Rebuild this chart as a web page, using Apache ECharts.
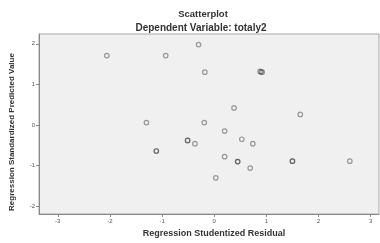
<!DOCTYPE html>
<html>
<head>
<meta charset="utf-8">
<script src="https://cdn.jsdelivr.net/npm/echarts@6/dist/echarts.min.js"></script>
<style>
  html, body { margin: 0; padding: 0; background: #fff; }
  #chart { width: 380px; height: 243px; }
</style>
</head>
<body>
<div id="chart"></div>
<script>
// studentized residual (x) vs standardized predicted value (y)
const residuals = [
  -2.06, -0.93, -0.30, -0.18, 0.88, 0.90, 0.92,
  0.38, 1.65, -1.30, -0.19, 0.20,
  -0.51, -0.51, -0.37, 0.53, 0.74,
  -1.11, -1.11, 0.20, 0.45, 0.45, 1.50, 1.50, 2.60,
  0.69, 0.03
]
const predicted = [
  1.71, 1.71, 1.98, 1.30, 1.32, 1.31, 1.30,
  0.42, 0.26, 0.06, 0.06, -0.15,
  -0.38, -0.38, -0.46, -0.35, -0.46,
  -0.64, -0.64, -0.78, -0.90, -0.90, -0.89, -0.89, -0.89,
  -1.06, -1.30
]
const xTicks = [-3, -2, -1, 0, 1, 2, 3]
const yTicks = [-2, -1, 0, 1, 2]

const points = residuals.map((x, i) => [x, predicted[i]])

const chart = echarts.init(document.getElementById('chart'), null, { renderer: 'canvas' })

const font = 'Liberation Sans, Arial, sans-serif'

chart.setOption({
  animation: false,
  backgroundColor: '#ffffff',
  title: [
    {
      text: 'Scatterplot',
      left: 198, top: 4, textAlign: 'center',
      textStyle: { fontFamily: font, fontSize: 9.5, fontWeight: 'bold', color: '#333' }
    },
    {
      text: 'Dependent Variable: totaly2',
      left: 196, top: 18, textAlign: 'center',
      textStyle: { fontFamily: font, fontSize: 10, fontWeight: 'bold', color: '#333' }
    }
  ],
  grid: {
    left: 38, right: 1, top: 34, bottom: 26,
    show: true,
    backgroundColor: '#f0f0f0',
    borderColor: '#a8a8a8',
    borderWidth: 1
  },
  xAxis: {
    type: 'value',
    min: -3.36,
    max: 3.16,
    name: 'Regression Studentized Residual',
    nameLocation: 'middle',
    nameGap: 15,
    nameTextStyle: { fontFamily: font, fontSize: 9, fontWeight: 'bold', color: '#333', padding: [0, 0, 0, 10] },
    axisLine: { show: true, onZero: false, lineStyle: { color: '#888', width: 1 } },
    axisTick: { show: true, length: 3, customValues: xTicks, lineStyle: { color: '#888' } },
    axisLabel: {
      customValues: xTicks,
      fontFamily: font, fontSize: 6, color: '#555', margin: 4
    },
    splitLine: { show: false }
  },
  yAxis: {
    type: 'value',
    min: -2.19,
    max: 2.24,
    name: 'Regression Standardized Predicted Value',
    nameLocation: 'middle',
    nameGap: 23,
    nameTextStyle: { fontFamily: font, fontSize: 8, fontWeight: 'bold', color: '#333', padding: [0, 16, 0, 0] },
    axisLine: { show: true, onZero: false, lineStyle: { color: '#888', width: 1 } },
    axisTick: { show: true, length: 3, customValues: yTicks, lineStyle: { color: '#888' } },
    axisLabel: {
      customValues: yTicks,
      fontFamily: font, fontSize: 6, color: '#555', margin: 4
    },
    splitLine: { show: false }
  },
  series: [
    {
      type: 'scatter',
      data: points,
      symbol: 'circle',
      symbolSize: 4.5,
      itemStyle: {
        color: 'rgba(0,0,0,0)',
        borderColor: 'rgba(40,40,40,0.55)',
        borderWidth: 1.2
      }
    }
  ]
})
</script>
</body>
</html>
